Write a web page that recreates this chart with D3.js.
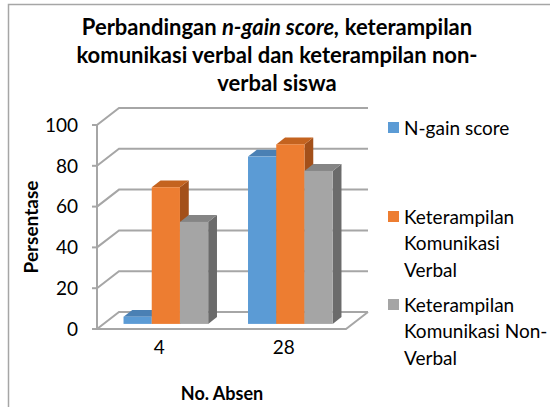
<!DOCTYPE html>
<html>
<head>
<meta charset="utf-8">
<script src="https://cdn.jsdelivr.net/npm/d3@7"></script>
<style>
  body { margin: 0; background: #fff; }
  text { font-family: Lato, "Open Sans", sans-serif; fill: #000; }
</style>
</head>
<body>
<script>
// data
let categories = ["4", "28"];
let nGain = [3.5, 82];
let verbal = [67, 88];
let nonVerbal = [50, 75];
let yTicks = [0, 20, 40, 60, 80, 100];
let legendLines = [
  ["N-gain score"],
  ["Keterampilan", "Komunikasi", "Verbal"],
  ["Keterampilan", "Komunikasi Non-", "Verbal"]
];
let seriesData = [nGain, verbal, nonVerbal];

let colors = [
  { front: "#5b9bd5", top: "#4a80b4", side: "#41719c" },
  { front: "#ed7d31", top: "#c4631f", side: "#a3501a" },
  { front: "#a5a5a5", top: "#858585", side: "#6b6b6b" }
];

let W = 550, H = 407;
let DX = 22, DY = -17;          // depth of the floor
let z0 = 0.3, z1 = 0.7;         // bars sit between these depths

let svg = d3.select("body").append("svg")
  .attr("width", W)
  .attr("height", H);

// chart frame (only left and top show)
svg.append("path")
  .attr("d", "M8.5,407 L8.5,4.5 L550,4.5")
  .attr("fill", "none")
  .attr("stroke", "#a6a6a6")
  .attr("stroke-width", 1.5);

let y = d3.scaleLinear().domain([0, 100]).range([329, 125]);
let x = d3.scaleBand().domain(categories).range([97, 346]).paddingInner(0.32).paddingOuter(0.16);
let xs = d3.scaleBand().domain(d3.range(3)).range([0, x.bandwidth()]);

let gridColor = "#a6a6a6";
let x0 = 97, x1 = 346;

// walls: side diagonals + back wall lines
let grid = svg.append("g")
  .attr("fill", "none")
  .attr("stroke", gridColor)
  .attr("stroke-width", 2);

grid.selectAll("path.grid")
  .data(yTicks)
  .join("path")
  .attr("class", "grid")
  .attr("d", d => "M" + x0 + "," + y(d) + " L" + (x0 + DX) + "," + (y(d) + DY) + " L" + (x1 + DX) + "," + (y(d) + DY));

// floor
grid.append("path")
  .attr("d", "M" + x0 + "," + y(0) + " L" + x1 + "," + y(0) + " L" + (x1 + DX) + "," + (y(0) + DY));

// value axis
grid.append("path")
  .attr("d", "M" + x0 + "," + y(100) + " L" + x0 + "," + y(0));
grid.selectAll("path.tick")
  .data(yTicks)
  .join("path")
  .attr("class", "tick")
  .attr("d", d => "M" + (x0 - 5) + "," + y(d) + " L" + x0 + "," + y(d));

svg.selectAll("text.ytick")
  .data(yTicks)
  .join("text")
  .attr("class", "ytick")
  .attr("x", 78)
  .attr("y", d => y(d))
  .attr("dy", "0.36em")
  .attr("text-anchor", "end")
  .attr("font-size", 19)
  .text(d => d);

// bars
let bars = [];
categories.forEach((c, i) => {
  seriesData.forEach((s, k) => {
    bars.push({ cat: c, k: k, v: s[i] });
  });
});

let pt = (px, py) => px + "," + py;

let barG = svg.selectAll("g.bar")
  .data(bars)
  .join("g")
  .attr("class", "bar");

barG.each(function(d) {
  let g = d3.select(this);
  let left = x(d.cat) + xs(d.k) + z0 * DX;
  let right = left + xs.bandwidth();
  let bottom = y(0) + z0 * DY;
  let top = y(d.v) + z0 * DY;
  let ddx = (z1 - z0) * DX, ddy = (z1 - z0) * DY;
  g.append("polygon")
    .attr("points", [pt(right, top), pt(right + ddx, top + ddy), pt(right + ddx, bottom + ddy), pt(right, bottom)].join(" "))
    .attr("fill", colors[d.k].side);
  g.append("polygon")
    .attr("points", [pt(left, top), pt(left + ddx, top + ddy), pt(right + ddx, top + ddy), pt(right, top)].join(" "))
    .attr("fill", colors[d.k].top);
  g.append("rect")
    .attr("x", left)
    .attr("y", top)
    .attr("width", xs.bandwidth())
    .attr("height", bottom - top)
    .attr("fill", colors[d.k].front);
});

// category labels sit under the front floor edge
let labelX = d3.scaleBand().domain(categories).range([x0, x1]);
svg.selectAll("text.xtick")
  .data(categories)
  .join("text")
  .attr("class", "xtick")
  .attr("x", d => labelX(d) + labelX.bandwidth() / 2)
  .attr("y", 347)
  .attr("dy", "0.36em")
  .attr("text-anchor", "middle")
  .attr("font-size", 19)
  .text(d => d);

// axis titles
svg.append("text")
  .attr("x", 222)
  .attr("y", 394)
  .attr("dy", "0.36em")
  .attr("text-anchor", "middle")
  .attr("font-size", 18)
  .attr("font-weight", "bold")
  .text("No. Absen");

svg.append("text")
  .attr("transform", "translate(31,227) rotate(-90)")
  .attr("dy", "0.36em")
  .attr("text-anchor", "middle")
  .attr("font-size", 19)
  .attr("font-weight", "bold")
  .text("Persentase");

// title
let title = svg.append("text")
  .attr("text-anchor", "middle")
  .attr("font-size", 22)
  .attr("font-weight", "bold");
let l1 = title.append("tspan").attr("x", 277).attr("y", 27).attr("dy", "0.36em");
l1.append("tspan").text("Perbandingan ");
l1.append("tspan").attr("font-style", "italic").text("n-gain score,");
l1.append("tspan").text(" keterampilan");
title.append("tspan").attr("x", 277).attr("y", 55).attr("dy", "0.36em").text("komunikasi verbal dan keterampilan non-");
title.append("tspan").attr("x", 277).attr("y", 83).attr("dy", "0.36em").text("verbal siswa");

// legend
let legendY = [128, 217, 305];
let leg = svg.selectAll("g.legend")
  .data(legendLines)
  .join("g")
  .attr("class", "legend")
  .attr("transform", (d, i) => "translate(388," + legendY[i] + ")");

leg.append("rect")
  .attr("x", 0)
  .attr("y", -6)
  .attr("width", 11)
  .attr("height", 11)
  .attr("fill", (d, i) => colors[i].front);

leg.each(function(lines) {
  d3.select(this).selectAll("text")
    .data(lines)
    .join("text")
    .attr("x", 16)
    .attr("y", (d, j) => j * 26.5)
    .attr("dy", "0.36em")
    .attr("font-size", 19)
    .text(d => d);
});
</script>
</body>
</html>
